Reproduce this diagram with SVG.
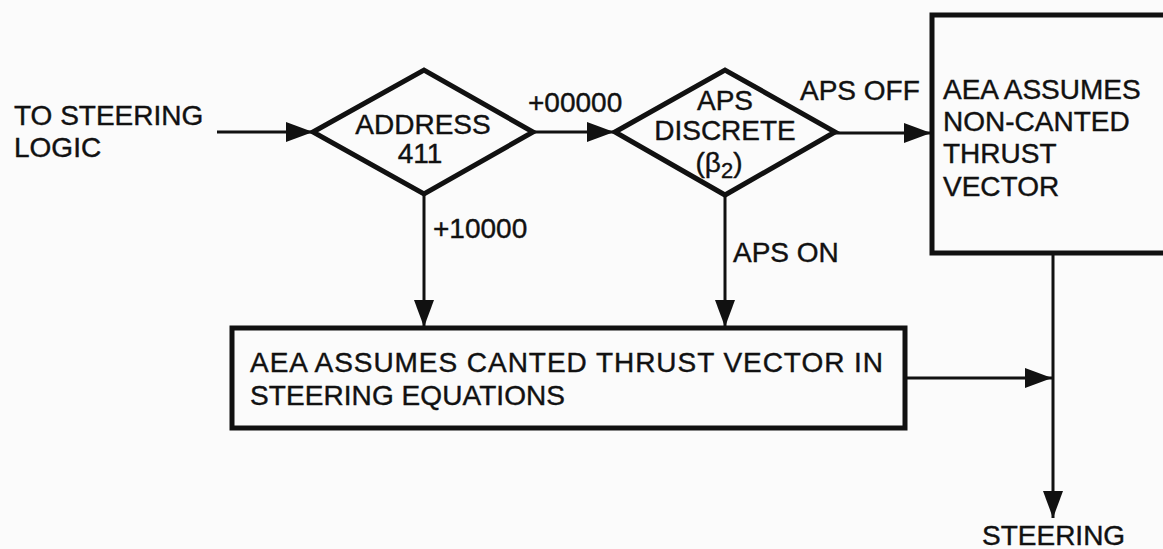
<svg xmlns="http://www.w3.org/2000/svg" width="1163" height="549" viewBox="0 0 1163 549">
<style>
.t{font-family:"Liberation Sans",Arial,sans-serif;font-size:28px;fill:#111;stroke:#111;stroke-width:0.4}
.m{text-anchor:middle}
.shape{fill:none;stroke:#111;stroke-width:5;stroke-linejoin:miter}
.con{fill:none;stroke:#111;stroke-width:3}
</style>
<defs>
<marker id="ah" markerUnits="userSpaceOnUse" markerWidth="30" markerHeight="22" refX="27" refY="10" orient="auto">
<path d="M0,0 L27,10 L0,20 Z" fill="#111"/>
</marker>
</defs>
<rect width="1163" height="549" fill="#fbfbfb"/>

<g id="connectors">
<line class="con" x1="217" y1="132" x2="313" y2="132" marker-end="url(#ah)"/>
<line class="con" x1="533" y1="132" x2="614" y2="132" marker-end="url(#ah)"/>
<line class="con" x1="835" y1="133" x2="931" y2="133" marker-end="url(#ah)"/>
<line class="con" x1="424" y1="194" x2="424" y2="327" marker-end="url(#ah)"/>
<line class="con" x1="725" y1="195" x2="725" y2="327" marker-end="url(#ah)"/>
<line class="con" x1="1053" y1="253" x2="1053" y2="518" marker-end="url(#ah)"/>
<line class="con" x1="905" y1="378" x2="1052" y2="378" marker-end="url(#ah)"/>
<text class="t" x="528" y="112">+00000</text>
<text class="t" x="800" y="100">APS OFF</text>
<text class="t" x="433" y="238">+10000</text>
<text class="t" x="733" y="262">APS ON</text>
</g>

<g id="start">
<text class="t" x="14" y="125">TO STEERING</text>
<text class="t" x="14" y="157">LOGIC</text>
</g>

<g id="address411">
<polygon class="shape" points="313,132 424,70 533,132 424,194"/>
<text class="t m" x="423" y="134">ADDRESS</text>
<text class="t m" x="420" y="163">411</text>
</g>

<g id="apsDiscrete">
<polygon class="shape" points="615,132 725,70 835,132 725,195"/>
<text class="t m" x="725" y="110">APS</text>
<text class="t m" x="725" y="140">DISCRETE</text>
<text class="t m" x="719" y="172">(β<tspan dy="6" font-size="22">2</tspan><tspan dy="-6">)</tspan></text>
</g>

<g id="nonCanted">
<rect class="shape" x="932" y="15" width="250" height="238"/>
<text class="t" x="943" y="99">AEA ASSUMES</text>
<text class="t" x="943" y="131">NON-CANTED</text>
<text class="t" x="943" y="163">THRUST</text>
<text class="t" x="943" y="196">VECTOR</text>
</g>

<g id="canted">
<rect class="shape" x="232" y="328" width="673" height="100"/>
<text class="t" x="250" y="372" textLength="633" lengthAdjust="spacing">AEA ASSUMES CANTED THRUST VECTOR IN</text>
<text class="t" x="250" y="405" textLength="315" lengthAdjust="spacing">STEERING EQUATIONS</text>
</g>

<g id="steering">
<text class="t" x="982" y="545">STEERING</text>
</g>
</svg>
